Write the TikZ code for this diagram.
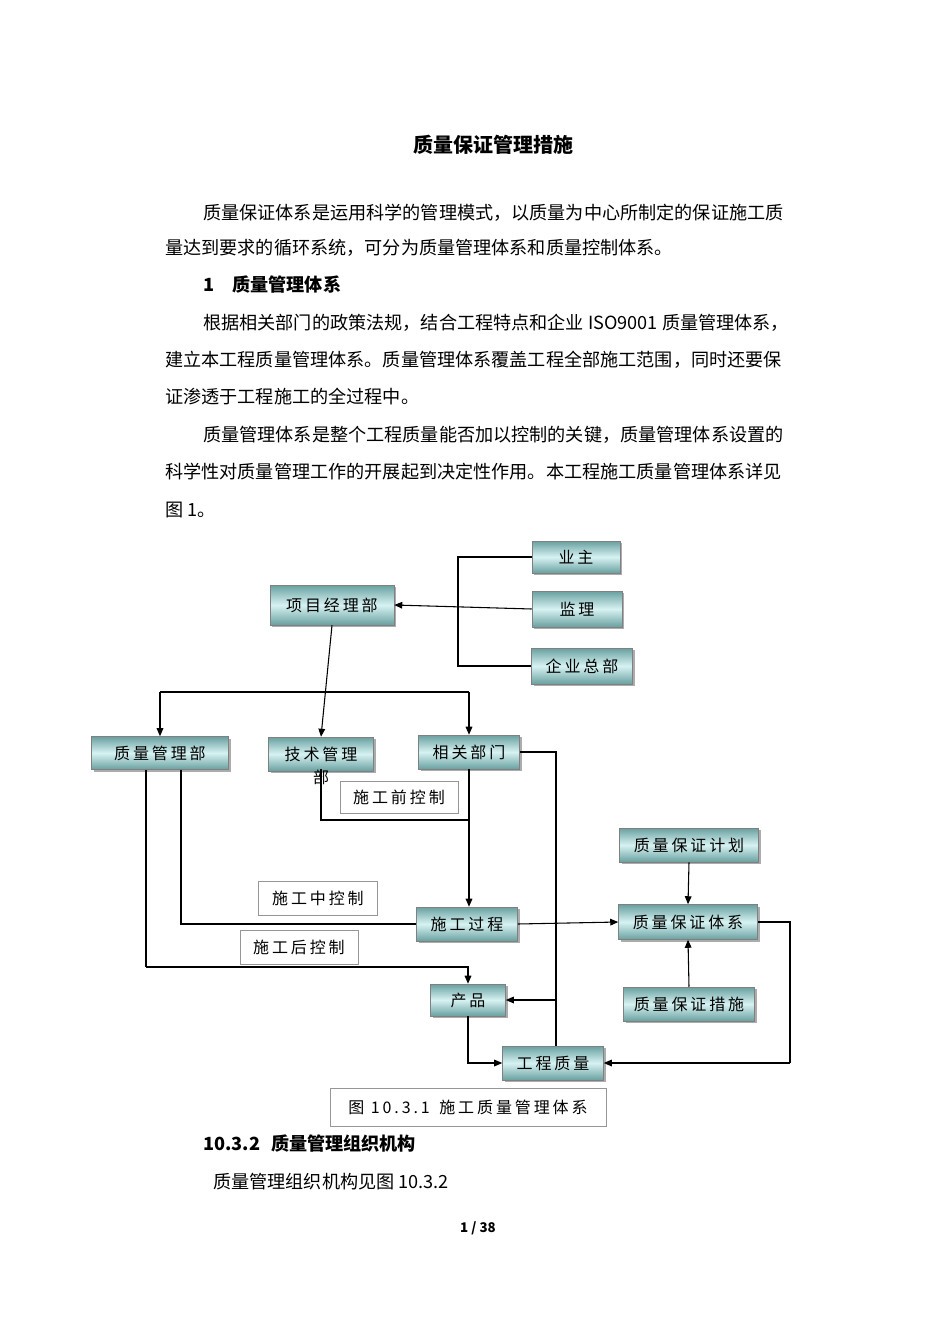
\documentclass[tikz,border=0pt]{standalone}
\usepackage{fontspec}
\setmainfont{Noto Sans CJK SC}
\newfontfamily\boxfont[LetterSpace=18]{Noto Sans CJK SC}
\usetikzlibrary{arrows.meta, shadows}
\definecolor{box_dark}{RGB}{105, 160, 160}
\definecolor{box_light}{RGB}{215, 242, 242}
\definecolor{line_gray}{RGB}{150, 150, 150}

\begin{document}
\begin{tikzpicture}[x=0.75pt, y=-0.75pt,
    sz/.style 2 args={minimum width=#1*0.75pt, minimum height=#2*0.75pt},
    blk/.style={rectangle, draw=gray, inner sep=0pt,
                top color=box_dark, bottom color=box_dark, middle color=box_light,
                drop shadow={shadow xshift=1.5pt, shadow yshift=-1.5pt, fill=black!65},
                font=\boxfont\fontsize{12}{14}\selectfont},
    lbl/.style={rectangle, draw=line_gray, fill=white, inner sep=0pt,
                font=\boxfont\fontsize{12}{14}\selectfont},
    txt/.style={anchor=west, inner sep=0pt, font=\fontsize{13.6}{16}\selectfont},
    hd/.style={txt, font=\fontsize{13.6}{16}\selectfont\bfseries},
    arr/.style={-{Triangle[length=6pt, width=5pt]}, thick},
    ln/.style={thick},
  ]
  \useasboundingbox (0,0) rectangle (950,1344);

  % page text
  \node[font=\fontsize{15}{18}\selectfont\bfseries] (title) at (493,145) {质量保证管理措施};
  \node[txt] (p1a) at (203,213) {质量保证体系是运用科学的管理模式，以质量为中心所制定的保证施工质};
  \node[txt] (p1b) at (165,248) {量达到要求的循环系统，可分为质量管理体系和质量控制体系。};
  \node[hd]  (s1)  at (203,285) {1\hspace{1em}质量管理体系};
  \node[txt] (p2a) at (203,323) {根据相关部门的政策法规，结合工程特点和企业 ISO9001 质量管理体系，};
  \node[txt] (p2b) at (165,360) {建立本工程质量管理体系。质量管理体系覆盖工程全部施工范围，同时还要保};
  \node[txt] (p2c) at (165,397) {证渗透于工程施工的全过程中。};
  \node[txt] (p3a) at (203,435) {质量管理体系是整个工程质量能否加以控制的关键，质量管理体系设置的};
  \node[txt] (p3b) at (165,472) {科学性对质量管理工作的开展起到决定性作用。本工程施工质量管理体系详见};
  \node[txt] (p3c) at (165,510) {图 1。};

  % diagram boxes
  \node[blk, sz={88}{32}]  (yezhu)   at (576,557)  {业主};
  \node[blk, sz={90}{36}]  (jianli)  at (577,609)  {监理};
  \node[blk, sz={101}{36}] (zongbu)  at (582,666)  {企业总部};
  \node[blk, sz={124}{40}] (xmjlb)   at (332,605)  {项目经理部};
  \node[blk, sz={137}{33}] (zlglb)   at (160,753)  {质量管理部};
  \node[blk, sz={105}{34}] (jsglb)   at (321,754)  {技术管理};
  \node[inner sep=0pt, font=\fontsize{12}{14}\selectfont] (jsbu) at (321,777) {部};
  \node[blk, sz={101}{34}] (xgbm)    at (469,752)  {相关部门};
  \node[lbl, sz={118}{32}] (sgq)     at (399,797)  {施工前控制};
  \node[lbl, sz={119}{34}] (sgz)     at (318,898)  {施工中控制};
  \node[lbl, sz={118}{34}] (sgh)     at (299,947)  {施工后控制};
  \node[blk, sz={101}{34}] (sggc)    at (467,924)  {施工过程};
  \node[blk, sz={139}{34}] (bzjh)    at (689,845)  {质量保证计划};
  \node[blk, sz={139}{35}] (bztx)    at (688,922)  {质量保证体系};
  \node[blk, sz={131}{34}] (bzcs)    at (689,1004) {质量保证措施};
  \node[blk, sz={75}{32}]  (chanpin) at (468,1000) {产品};
  \node[blk, sz={101}{34}] (gczl)    at (553,1063) {工程质量};
  \node[lbl, sz={276}{38}] (caption) at (468,1107) {图 10.3.1\hspace{0.6em}施工质量管理体系};

  % connectors
  \coordinate (bk) at (458,0);
  \draw[ln] (yezhu.west) -| (bk |- zongbu.west) -- (zongbu.west);
  \draw[arr] (jianli.west) -- (xmjlb.east);
  \coordinate (split) at (0,692);
  \draw[arr] (xmjlb.south) -- (jsglb.north);
  \draw[ln] (zlglb.north |- split) -- (xgbm.north |- split);
  \draw[arr] (zlglb.north |- split) -- (zlglb.north);
  \draw[arr] (xgbm.north |- split) -- (xgbm.north);
  \coordinate (qq) at (0,820);
  \draw[ln] (jsbu.north) -- (jsbu |- qq) -- (xgbm.south |- qq);
  \draw[arr] (xgbm.south) -- (xgbm.south |- sggc.north);
  \coordinate (zc) at (181,0);
  \draw[ln] (zc |- zlglb.south) -- (zc |- sggc.west) -- (sggc.west);
  \coordinate (hc) at (146,967);
  \draw[ln] (hc |- zlglb.south) -- (hc);
  \draw[arr] (hc) -- (chanpin.north |- hc) -- (chanpin.north);
  \coordinate (rr) at (556,0);
  \draw[ln] (xgbm.east) -- (rr |- xgbm.east) -- (rr |- gczl.north);
  \draw[arr] (rr |- chanpin.east) -- (chanpin.east);
  \draw[arr] (sggc.east) -- (bztx.west);
  \draw[arr] (bzjh.south) -- (bztx.north);
  \draw[arr] (bzcs.north) -- (bztx.south);
  \coordinate (ec) at (790,0);
  \draw[ln] (bztx.east) -- (ec |- bztx.east) -- (ec |- gczl.east);
  \draw[arr] (ec |- gczl.east) -- (gczl.east);
  \draw[arr] (chanpin.south) |- (gczl.west);

  % text after figure
  \node[hd]  (s2)  at (203,1144) {10.3.2\hspace{0.6em}质量管理组织机构};
  \node[txt] (p4)  at (213,1182) {质量管理组织机构见图 10.3.2};
  \node[font=\fontsize{10}{12}\selectfont\bfseries] (pg) at (478,1228) {1 / 38};
\end{tikzpicture}
\end{document}
